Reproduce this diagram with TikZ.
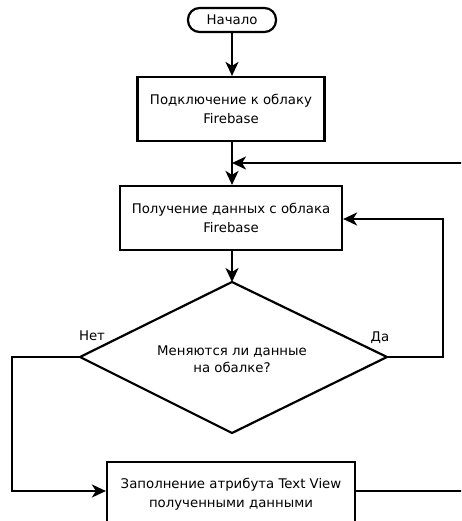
\documentclass[tikz,border=0pt]{standalone}
\usepackage{fontspec}
\setmainfont{DejaVu Sans}
\usetikzlibrary{shapes.geometric,arrows.meta}
\tikzset{
  line/.style={line width=2.2pt},
  arr/.style={line, -{Stealth[length=14pt,width=13pt,inset=4pt]}},
  proc/.style={draw, line width=2.2pt, minimum height=64pt, align=center, inner sep=0pt, font=\fontsize{13.3}{19}\selectfont},
  term/.style={draw, line width=2.2pt, rounded corners=11.5pt, minimum width=88pt, minimum height=24pt, inner sep=0pt, font=\fontsize{13.3}{14}\selectfont},
  lbl/.style={font=\fontsize{13.3}{16.5}\selectfont, inner sep=0pt, align=center}
}
\begin{document}
\begin{tikzpicture}[x=1pt,y=-1pt]
\path[use as bounding box, clip] (0,0) rectangle (461,521);
\fill[white] (0,0) rectangle (461,521);
\node[term] (start) at (232,20) {Начало};
\node[proc, minimum width=187pt] (b1) at (231,109) {Подключение к облаку\\Firebase};
\node[proc, minimum width=222pt] (b2) at (231,218) {Получение данных с облака\\Firebase};
\coordinate (dl) at (80,357);
\coordinate (dr) at (387,357);
\coordinate (dt) at (232,282);
\coordinate (db) at (232,433);
\draw[line, line join=miter] (dl) -- (dt) -- (dr) -- (db) -- cycle;
\node[lbl] (dtext) at (232,359) {Меняются ли данные\\на обалке?};
\node[proc, minimum width=248pt] (b3) at (231,494) {Заполнение атрибута Text View\\полученными данными};
\node[lbl] (no) at (92,336) {Нет};
\node[lbl] (yes) at (380,338) {Да};
\coordinate (rin) at (462,163);
\coordinate (j) at (232,163);
\coordinate (rc1) at (443,357);
\coordinate (rc2) at (443,219);
\coordinate (lc1) at (12,357);
\coordinate (lc2) at (12,491);
\coordinate (rout) at (462,491);
\draw[arr] (start.south -| dt) -- (b1.north -| dt);
\draw[arr] (b1.south -| dt) -- (b2.north -| dt);
\draw[arr] (rin) -- (j);
\draw[arr] (b2.south -| dt) -- (dt);
\draw[arr] (dr) -- (rc1) -- (rc2) -- (b2.east |- rc2);
\draw[arr] (dl) -- (lc1) -- (lc2) -- (b3.west |- lc2);
\draw[line] (b3.east |- rout) -- (rout);
\end{tikzpicture}
\end{document}
